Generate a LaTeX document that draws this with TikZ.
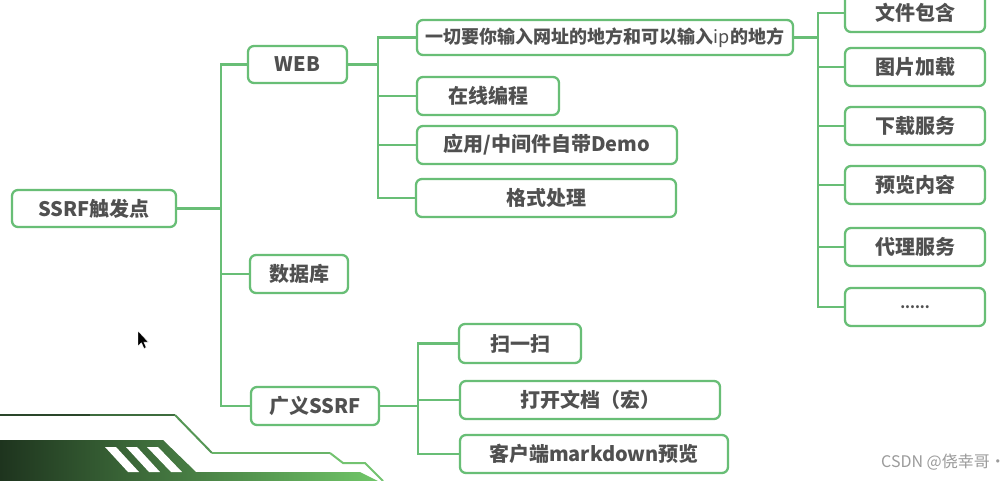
\documentclass[tikz,border=0pt]{standalone}
\usepackage{fontspec}
\newfontfamily\cjk{Noto Sans CJK SC}
\usetikzlibrary{calc}
\definecolor{boxgreen}{RGB}{104,190,118}
\definecolor{txtgray}{RGB}{80,80,80}
\definecolor{bandL}{RGB}{30,52,30}
\definecolor{bandR}{RGB}{112,198,104}
\tikzset{
  box/.style={draw=boxgreen, line width=2.3pt, rounded corners=6pt, fill=white,
    inner sep=0pt, anchor=center, text=txtgray, font=\cjk\bfseries\fontsize{20}{22}\selectfont},
  conn/.style={draw=boxgreen, line width=2.3pt},
}
\begin{document}
\begin{tikzpicture}[x=1pt,y=-1pt]
\useasboundingbox (0,0) rectangle (1006,481);
\clip (0,0) rectangle (1006,481);
\fill[white] (0,0) rectangle (1006,481);

% bottom-left decoration
\shade[left color=bandL, right color=bandR]
  (0,440) -- (163,440) -- (196,472) -- (360,472) -- (378,481) -- (0,481) -- cycle;
\fill[white] (105,447) -- (116,447) -- (139,472) -- (128,472) -- cycle;
\fill[white] (126,447) -- (137,447) -- (160,472) -- (149,472) -- cycle;
\fill[white] (147,447) -- (158,447) -- (182,472) -- (171,472) -- cycle;
\draw[line width=2pt, color={rgb,255:red,42;green,70;blue,42}] (0,415) -- (90,415);
\draw[line width=2pt, color={rgb,255:red,62;green,108;blue,62}] (90,415) -- (175,415);
\draw[line width=2pt, color={rgb,255:red,85;green,150;blue,85}] (175,415) -- (212,453);
\draw[line width=2pt, color={rgb,255:red,104;green,180;blue,104}] (212,453) -- (330,453);
\draw[line width=2pt, color={rgb,255:red,115;green,195;blue,112}] (330,453) -- (343,463) -- (365,463) -- (383,481);

% cursor
\fill[black, draw=white, line width=0.4pt]
  (138,331) -- (138,346) -- (141.5,342.8) -- (144,348.5) -- (146.2,347.5) -- (143.8,342) -- (148.3,342) -- cycle;

% nodes
\node[box, minimum width=164pt, minimum height=37pt] (root) at (94,208.5) {SSRF触发点};
\node[box, minimum width=99pt, minimum height=37pt] (web) at (297.5,64.5) {WEB};
\node[box, minimum width=98pt, minimum height=38pt] (db) at (299,274) {数据库};
\node[box, minimum width=128pt, minimum height=38pt] (gy) at (315,406) {广义SSRF};

\node[box, minimum width=376pt, minimum height=35pt, font=\cjk\bfseries\fontsize{18}{20}\selectfont] (url) at (605,37.5) {一切要你输入网址的地方和可以输入{\mdseries ip}的地方};
\node[box, minimum width=142pt, minimum height=38pt] (zx) at (488,96) {在线编程};
\node[box, minimum width=260pt, minimum height=38pt] (yy) at (547,145) {应用/中间件自带Demo};
\node[box, minimum width=260pt, minimum height=38pt] (gs) at (546,198) {格式处理};

\node[box, minimum width=140pt, minimum height=38pt] (r1) at (915,13) {文件包含};
\node[box, minimum width=140pt, minimum height=38pt] (r2) at (915,67) {图片加载};
\node[box, minimum width=140pt, minimum height=38pt] (r3) at (915,126) {下载服务};
\node[box, minimum width=140pt, minimum height=38pt] (r4) at (915,185) {预览内容};
\node[box, minimum width=140pt, minimum height=38pt] (r5) at (915,247) {代理服务};
\node[box, minimum width=140pt, minimum height=38pt, font=\cjk\bfseries\fontsize{14}{16}\selectfont] (r6) at (915,307) {......};

\node[box, minimum width=122pt, minimum height=39pt] (s1) at (520,343.5) {扫一扫};
\node[box, minimum width=260pt, minimum height=38pt] (s2) at (590,400) {打开文档（宏）};
\node[box, minimum width=268pt, minimum height=38pt] (s3) at (594,454) {客户端markdown预览};

% trunk coordinates
\coordinate (t1) at (221,0);
\coordinate (t2) at (378,0);
\coordinate (t3) at (818,0);
\coordinate (t4) at (418,0);

% connectors
\foreach \c in {web,db,gy}
  \draw[conn] (root.east) -- (root.east -| t1) |- (\c.west);
\foreach \c in {url,zx,yy,gs}
  \draw[conn] (web.east) -- (web.east -| t2) |- (\c.west);
\foreach \c in {r1,r2,r3,r4,r5,r6}
  \draw[conn] (url.east) -- (url.east -| t3) |- (\c.west);
\foreach \c in {s1,s2,s3}
  \draw[conn] (gy.east) -- (gy.east -| t4) |- (\c.west);

% watermark
\node[anchor=west, inner sep=0pt, text={rgb,255:red,155;green,155;blue,155}, font=\cjk\fontsize{16}{18}\selectfont] (wm) at (881,462) {CSDN @侥幸哥·};
\end{tikzpicture}
\end{document}
